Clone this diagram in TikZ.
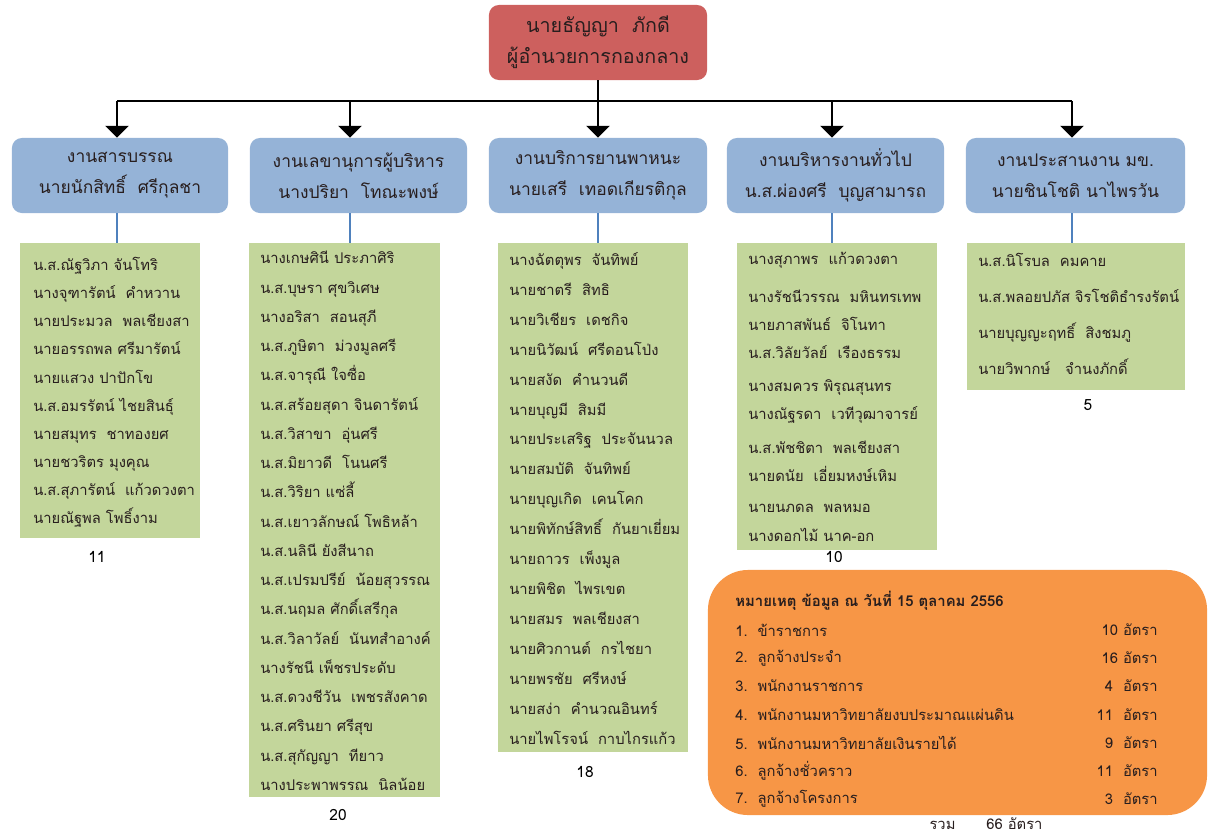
\documentclass[tikz,border=0pt]{standalone}
\usepackage{fontspec}
\setmainfont[Script=Thai]{Loma}
\usetikzlibrary{arrows}

\definecolor{headred}{RGB}{205,96,94}
\definecolor{unitblue}{RGB}{149,179,215}
\definecolor{staffgreen}{RGB}{195,214,155}
\definecolor{noteorange}{RGB}{247,150,70}
\definecolor{linkblue}{RGB}{79,129,189}
\definecolor{inkdark}{RGB}{40,30,30}

\begin{document}
\begin{tikzpicture}[x=0.025cm,y=-0.025cm,
    head/.style={rectangle,rounded corners=7pt,fill=headred,minimum width=5.45cm,minimum height=1.875cm,align=center,text=inkdark,font=\fontsize{14}{22}\selectfont},
    unit/.style={rectangle,rounded corners=7pt,fill=unitblue,minimum width=5.4cm,minimum height=1.875cm,align=center,text=inkdark,font=\fontsize{12.4}{22}\selectfont},
    staffbox/.style={rectangle,fill=staffgreen,inner sep=0pt},
    names/.style={anchor=north west,align=left,inner sep=0pt,text=inkdark},
    total/.style={font=\fontsize{11}{13}\selectfont},
    rate/.style={inner sep=0pt,font=\fontsize{10.5}{13}\selectfont,text=inkdark}
  ]
  \useasboundingbox (0,0) rectangle (1209,837);

  % top
  \node[head] (boss) at (598,42.5) {นายธัญญา\ \ ภักดี\\ผู้อำนวยการกองกลาง};

  % units
  \node[unit] (u1) at (120,175.5) {งานสารบรรณ\\นายนักสิทธิ์\ \ ศรีกุลชา};
  \node[unit,minimum width=5.425cm] (u2) at (358.5,175.5) {งานเลขานุการผู้บริหาร\\นางปริยา\ \ โทณะพงษ์};
  \node[unit,minimum width=5.45cm] (u3) at (598,175.5) {งานบริการยานพาหนะ\\นายเสรี\ \ เทอดเกียรติกุล};
  \node[unit,minimum width=5.425cm] (u4) at (835.5,175.5) {งานบริหารงานทั่วไป\\น.ส.ผ่องศรี\ \ บุญสามารถ};
  \node[unit,minimum width=5.475cm] (u5) at (1075.5,175.5) {งานประสานงาน มข.\\นายชินโชติ นาไพรวัน};

  \coordinate (bar) at (598,101);
  \coordinate (c1) at (117,101);
  \coordinate (c2) at (350,101);
  \coordinate (c3) at (598,101);
  \coordinate (c4) at (832,101);
  \coordinate (c5) at (1072,101);

  \draw[line width=2pt] (boss.south) -- (bar);
  \draw[line width=2pt] (c1) -- (c5);
  \draw[line width=2pt,-triangle 90] (c1) -- (c1 |- u1.north);
  \draw[line width=2pt,-triangle 90] (c2) -- (c2 |- u2.north);
  \draw[line width=2pt,-triangle 90] (c3) -- (c3 |- u3.north);
  \draw[line width=2pt,-triangle 90] (c4) -- (c4 |- u4.north);
  \draw[line width=2pt,-triangle 90] (c5) -- (c5 |- u5.north);

  % staff lists
  \node[staffbox,minimum width=4.5cm,minimum height=7.375cm] (s1) at (110,390.5) {};
  \node[staffbox,minimum width=4.775cm,minimum height=13.85cm] (s2) at (344.5,520) {};
  \node[staffbox,minimum width=4.75cm,minimum height=12.725cm] (s3) at (593,497.5) {};
  \node[staffbox,minimum width=5cm,minimum height=7.675cm] (s4) at (837,396.5) {};
  \node[staffbox,minimum width=5.45cm,minimum height=3.675cm] (s5) at (1076,316.5) {};

  \draw[linkblue,line width=1.5pt] (c1 |- u1.south) -- (c1 |- s1.north);
  \draw[linkblue,line width=1.5pt] (c2 |- u2.south) -- (c2 |- s2.north);
  \draw[linkblue,line width=1.5pt] (c3 |- u3.south) -- (c3 |- s3.north);
  \draw[linkblue,line width=1.5pt] (c4 |- u4.south) -- (c4 |- s4.north);
  \draw[linkblue,line width=1.5pt] (c5 |- u5.south) -- (c5 |- s5.north);

  \node[names,font=\fontsize{10.5}{20}\selectfont] (n1) at (33,257) {%
    น.ส.ณัฐวิภา จันโทริ\\
    นางจุฑารัตน์\ \ คำหวาน\\
    นายประมวล\ \ พลเชียงสา\\
    นายอรรถพล ศรีมารัตน์\\
    นายแสวง ปาปักโข\\
    น.ส.อมรรัตน์ ไชยสินธุ์\\
    นายสมุทร\ \ ชาทองยศ\\
    นายชวริตร มุงคุณ\\
    น.ส.สุภารัตน์\ \ แก้วดวงตา\\
    นายณัฐพล โพธิ์งาม};

  \node[names,font=\fontsize{10.5}{20.8}\selectfont] (n2) at (260,251) {%
    นางเกษศินี ประภาศิริ\\
    น.ส.บุษรา ศุขวิเศษ\\
    นางอริสา\ \ สอนสุภี\\
    น.ส.ภูษิตา\ \ ม่วงมูลศรี\\
    น.ส.จารุณี ใจซื่อ\\
    น.ส.สร้อยสุดา จินดารัตน์\\
    น.ส.วิสาขา\ \ อุ่นศรี\\
    น.ส.มิยาวดี\ \ โนนศรี\\
    น.ส.วิริยา แซ่ลี้\\
    น.ส.เยาวลักษณ์ โพธิหล้า\\
    น.ส.นลินี ยังสีนาถ\\
    น.ส.เปรมปรีย์\ \ น้อยสุวรรณ\\
    น.ส.นฤมล ศักดิ์เสรีกุล\\
    น.ส.วิลาวัลย์\ \ นันทสำอางค์\\
    นางรัชนี เพ็ชรประดับ\\
    น.ส.ดวงชีวัน\ \ เพชรสังคาด\\
    น.ส.ศรินยา ศรีสุข\\
    น.ส.สุกัญญา\ \ ทียาว\\
    นางประพาพรรณ\ \ นิลน้อย};

  \node[names,font=\fontsize{10.5}{21.3}\selectfont] (n3) at (509,252) {%
    นางฉัตตุพร\ \ จันทิพย์\\
    นายชาตรี\ \ สิทธิ\\
    นายวิเชียร\ \ เดชกิจ\\
    นายนิวัฒน์\ \ ศรีดอนโป่ง\\
    นายสงัด\ \ คำนวนดี\\
    นายบุญมี\ \ สิมมี\\
    นายประเสริฐ\ \ ประจันนวล\\
    นายสมบัติ\ \ จันทิพย์\\
    นายบุญเกิด\ \ เคนโคก\\
    นายพิทักษ์สิทธิ์\ \ กันยาเยี่ยม\\
    นายถาวร\ \ เพ็งมูล\\
    นายพิชิต\ \ ไพรเขต\\
    นายสมร\ \ พลเชียงสา\\
    นายศิวกานต์\ \ กรไชยา\\
    นายพรชัย\ \ ศรีหงษ์\\
    นายสง่า\ \ คำนวณอินทร์\\
    นายไพโรจน์\ \ กาบไกรแก้ว};

  \node[names,font=\fontsize{10.5}{20}\selectfont] (n4) at (748,252) {%
    นางสุภาพร\ \ แก้วดวงตา\\[7pt]
    นางรัชนีวรรณ\ \ มหินทรเทพ\\
    นายภาสพันธ์\ \ จิโนทา\\
    น.ส.วิลัยวัลย์\ \ เรืองธรรม\\[3pt]
    นางสมควร พิรุณสุนทร\\
    นางณัฐรดา\ \ เวทีวุฒาจารย์\\[4pt]
    น.ส.พัชชิตา\ \ พลเชียงสา\\
    นายดนัย\ \ เอี่ยมหงษ์เหิม\\[2pt]
    นายนภดล\ \ พลหมอ\\[1pt]
    นางดอกไม้ นาค-อก};

  \node[names,font=\fontsize{10.5}{25.6}\selectfont] (n5) at (978,253) {%
    น.ส.นิโรบล\ \ คมคาย\\
    น.ส.พลอยปภัส จิรโชติธำรงรัตน์\\
    นายบุญญะฤทธิ์\ \ สิงชมภู\\
    นายวิพากษ์\ \ \ จำนงภักดิ์};

  % head counts
  \node[total] (k1) at (97,557) {11};
  \node[total] (k2) at (338,815) {20};
  \node[total] (k3) at (585,772) {18};
  \node[total] (k4) at (834,557) {10};
  \node[total] (k5) at (1088,405) {5};

  % note
  \node[rectangle,rounded corners=1cm,fill=noteorange,minimum width=12.475cm,minimum height=6.125cm] (note) at (957.5,692.5) {};
  \node[rate,anchor=west,font=\bfseries\fontsize{10.6}{13}\selectfont] (title) at (735,601) {หมายเหตุ ข้อมูล ณ วันที่ 15 ตุลาคม 2556};
  \node[rate,anchor=west] (i1) at (735,630) {1.\ \ ข้าราชการ};
  \node[rate,anchor=west] (i2) at (735,658) {2.\ \ ลูกจ้างประจำ};
  \node[rate,anchor=west] (i3) at (735,686) {3.\ \ พนักงานราชการ};
  \node[rate,anchor=west] (i4) at (735,715) {4.\ \ พนักงานมหาวิทยาลัยงบประมาณแผ่นดิน};
  \node[rate,anchor=west] (i5) at (735,743) {5.\ \ พนักงานมหาวิทยาลัยเงินรายได้};
  \node[rate,anchor=west] (i6) at (735,771) {6.\ \ ลูกจ้างชั่วคราว};
  \node[rate,anchor=west] (i7) at (735,799) {7.\ \ ลูกจ้างโครงการ};
  \node[rate,anchor=east] (r1) at (1158,630) {10 อัตรา};
  \node[rate,anchor=east] (r2) at (1158,658) {16 อัตรา};
  \node[rate,anchor=east] (r3) at (1158,686) {4\ \ อัตรา};
  \node[rate,anchor=east] (r4) at (1158,715) {11\ \ อัตรา};
  \node[rate,anchor=east] (r5) at (1158,743) {9\ \ อัตรา};
  \node[rate,anchor=east] (r6) at (1158,771) {11\ \ อัตรา};
  \node[rate,anchor=east] (r7) at (1158,799) {3\ \ อัตรา};
  \node[rate] (sum) at (986,824) {รวม\hspace{22pt}66 อัตรา};
\end{tikzpicture}
\end{document}
